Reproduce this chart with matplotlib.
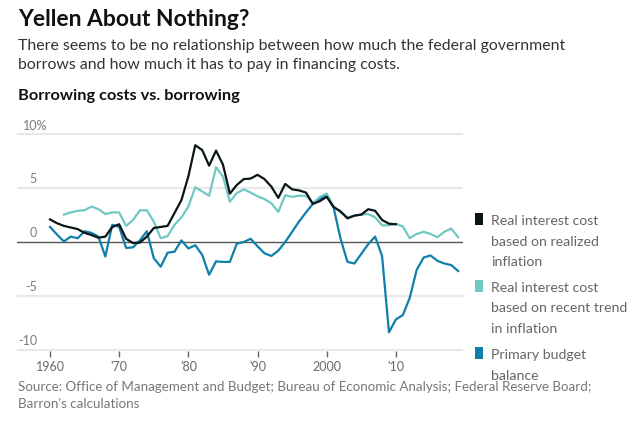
import numpy as np
import matplotlib
matplotlib.use("Agg")
import matplotlib.pyplot as plt
from matplotlib.patches import Rectangle

plt.rcParams['font.family'] = ['Lato', 'DejaVu Sans']

# ---------------- data ----------------
years = list(range(1960, 2020))

realized_years = list(range(1960, 2011))
realized = [2.1, 1.75, 1.5, 1.35, 1.2, 0.85, 0.65, 0.4, 0.5, 1.4,
            1.65, 0.3, -0.1, -0.05, 0.5, 1.3, 1.4, 1.5, 2.7, 3.9,
            6.1, 9.0, 8.55, 7.1, 8.5, 7.2, 4.5, 5.3, 5.85, 5.9,
            6.25, 5.85, 5.15, 4.1, 5.4, 4.9, 4.8, 4.6, 3.55, 3.8,
            4.2, 3.25, 2.85, 2.2, 2.45, 2.55, 3.05, 2.9, 2.05, 1.7,
            1.65]

trend_years = list(range(1962, 2020))
trend = [2.55, 2.75, 2.9, 2.95, 3.3, 3.05, 2.6, 2.75,
         2.75, 1.5, 2.05, 2.95, 2.95, 1.9, 0.35, 0.55, 1.6, 2.3,
         3.3, 5.1, 4.7, 4.3, 6.95, 6.1, 3.75, 4.55, 4.9, 4.6,
         4.25, 4.0, 3.6, 2.8, 4.35, 4.2, 4.3, 4.3, 3.6, 4.2,
         4.5, 3.3, 2.75, 2.3, 2.45, 2.55, 2.6, 2.3, 1.55, 1.55,
         1.7, 1.45, 0.35, 0.75, 0.95, 0.75, 0.45, 0.95, 1.25, 0.45]

budget = [1.4, 0.7, 0.05, 0.5, 0.35, 1.0, 0.85, 0.5, -1.35, 1.6,
          1.4, -0.55, -0.5, 0.15, 1.0, -1.5, -2.3, -1.0, -0.9, 0.15,
          -0.6, -0.3, -1.2, -3.05, -1.8, -1.85, -1.85, -0.15, 0.0, 0.3,
          -0.4, -1.05, -1.3, -0.8, 0.0, 0.95, 1.9, 2.75, 3.55, 4.0,
          4.35, 3.2, 0.3, -1.85, -2.0, -1.1, -0.2, 0.5, -1.3, -8.4,
          -7.2, -6.8, -5.2, -2.6, -1.45, -1.25, -1.75, -2.0, -2.15, -2.7]

yticks = [-10, -5, 0, 5, 10]
xticks = [1960, 1970, 1980, 1990, 2000, 2010]
xticklabels = ['1960', "'70", "'80", "'90", '2000', "'10"]

series_labels = [
    ['Real interest cost', 'based on realized', 'inflation'],
    ['Real interest cost', 'based on recent trend', 'in inflation'],
    ['Primary budget', 'balance'],
]
colors = ['#0b1416', '#6fc8c1', '#0e7fa9']

title = 'Yellen About Nothing?'
subtitle = ['There seems to be no relationship between how much the federal government',
            'borrows and how much it has to pay in financing costs.']
chart_title = 'Borrowing costs vs. borrowing'
source = ['Source: Office of Management and Budget; Bureau of Economic Analysis; Federal Reserve Board;',
          "Barron's calculations"]

# ---------------- layout ----------------
W, H = 634, 421
def fx(x):
    return x / W
def fy(y):
    return 1 - y / H

fig = plt.figure(figsize=(W / 100, H / 100), dpi=100)
fig.patch.set_facecolor('white')

ax_left, ax_right = 17, 463
ax_top, ax_bot = 133.2, 350.8
ax = fig.add_axes([fx(ax_left), fy(ax_bot), (ax_right - ax_left) / W, (ax_bot - ax_top) / H])
ax.set_xlim(1955.23, 2019.7)
ax.set_ylim(-10.12, 10.12)
for s in ax.spines.values():
    s.set_visible(False)
ax.set_facecolor('none')

for v in yticks:
    if v == 0:
        continue
    ax.axhline(v, color='#e9e9e9', lw=1.6, zorder=1)
ax.axhline(0, color='#555555', lw=1.0, zorder=2)

ax.plot(realized_years, realized, color=colors[0], lw=1.6, zorder=5, solid_joinstyle='round')
ax.plot(trend_years, trend, color=colors[1], lw=1.6, zorder=4, solid_joinstyle='round')
ax.plot(years, budget, color=colors[2], lw=1.6, zorder=3, solid_joinstyle='round')

ax.set_yticks([])
ax.set_xticks(xticks)
ax.set_xticklabels(xticklabels)
ax.tick_params(axis='x', length=4.5, width=1.0, color='#666666', pad=3,
               labelsize=9, labelcolor='#6a6a6a')

ytrans = ax.get_yaxis_transform()
lab_x = (37 - ax_left) / (ax_right - ax_left)
pct_x = (22.5 - ax_left) / (ax_right - ax_left)
for v in yticks:
    if v == max(yticks):
        ax.text(pct_x, v + 0.45, f'{v}%', transform=ytrans, ha='left', va='baseline',
                fontsize=9, color='#7a7a7a')
    else:
        ax.text(lab_x, v + 0.45, str(v), transform=ytrans, ha='right', va='baseline',
                fontsize=9, color='#7a7a7a')

# ---------------- text ----------------
fig.text(fx(18), fy(26), title, fontsize=16.5, weight='bold', color='#111111', va='baseline')
for i, line in enumerate(subtitle):
    fig.text(fx(18), fy(50 + 19.3 * i), line, fontsize=11.4, color='#333333', va='baseline')
fig.text(fx(18), fy(100), chart_title, fontsize=11.8, weight='bold', color='#111111', va='baseline')
for i, line in enumerate(source):
    fig.text(fx(18), fy(391 + 17 * i), line, fontsize=9.6, color='#777777', va='baseline')

# legend
leg_top = [213, 280, 347]
for k, lines in enumerate(series_labels):
    t = leg_top[k]
    fig.patches.append(Rectangle((fx(475), fy(t + 12)), 8 / W, 12 / H, transform=fig.transFigure,
                                 facecolor=colors[k], edgecolor='none'))
    for j, line in enumerate(lines):
        fig.text(fx(491), fy(t + 12 + 20.5 * j), line, fontsize=10.2, color='#666666', va='baseline')

fig.savefig('out.png', dpi=100, facecolor='white')
